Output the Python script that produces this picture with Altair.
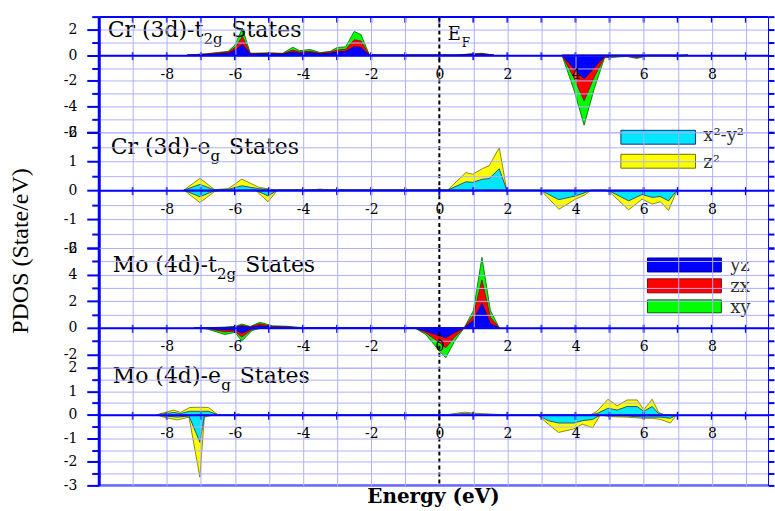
import altair as alt
import numpy as np
import pandas as pd

# ---------------------------------------------------------------------------
# Projected DOS (States/eV). Spin-up is positive, spin-down negative.
# Each orbital curve is drawn as an envelope measured from zero.
# ---------------------------------------------------------------------------

# Cr (3d)-t2g
CR_T2G_UP_E = [-7.4, -6.8, -6.2, -6.0, -5.78, -5.55, -5.0, -4.6, -4.3, -4.1, -3.8,
               -3.5, -3.2, -3.0, -2.75, -2.5, -2.3, -2.05, 0.5, 0.9, 1.25, 1.6]
CR_T2G_UP_XY = [0, 0.12, 0.3, 0.8, 2.1, 0.15, 0.18, 0.15, 0.62, 0.35, 0.45,
                0.2, 0.3, 0.6, 0.65, 1.85, 1.6, 0, 0, 0.1, 0.15, 0]
CR_T2G_UP_ZX = [0, 0.1, 0.25, 0.6, 1.45, 0.12, 0.15, 0.12, 0.4, 0.25, 0.3,
                0.15, 0.25, 0.4, 0.45, 1.2, 1.1, 0, 0, 0.08, 0.12, 0]
CR_T2G_UP_YZ = [0, 0.05, 0.15, 0.4, 0.82, 0.08, 0.1, 0.08, 0.25, 0.15, 0.2,
                0.1, 0.15, 0.25, 0.3, 0.65, 0.6, 0, 0, 0.03, 0.05, 0]
CR_T2G_DN_E = [3.6, 3.95, 4.25, 4.55, 4.85, 5.5, 5.8, 6.1, 6.8, 7.0, 7.3]
CR_T2G_DN_XY = [0, -2.7, -5.45, -2.6, -0.2, -0.1, -0.25, -0.05, -0.05, -0.12, 0]
CR_T2G_DN_ZX = [0, -1.75, -3.55, -1.7, -0.15, -0.08, -0.18, -0.04, -0.04, -0.08, 0]
CR_T2G_DN_YZ = [0, -1.05, -1.85, -0.95, -0.1, -0.05, -0.1, -0.02, -0.02, -0.04, 0]

# Cr (3d)-eg
CR_EG_UP_E = [-7.5, -7.03, -6.6, -6.2, -5.8, -5.3, -4.8, -3.8, -3.5, -3.2,
              0.24, 0.78, 0.98, 1.27, 1.46, 1.76, 1.98]
CR_EG_UP_Z2 = [0, 0.41, 0.02, 0.05, 0.38, 0.1, 0, 0, 0.04, 0,
               0, 0.61, 0.55, 0.75, 0.84, 1.47, 0]
CR_EG_UP_X2Y2 = [0, 0.2, 0.01, 0.03, 0.15, 0.05, 0, 0, 0.02, 0,
                 0, 0.29, 0.27, 0.38, 0.4, 0.74, 0]
CR_EG_DN_E = [-7.5, -7.03, -6.6, -6.4, -5.4, -5.03, -4.75, 2.93, 3.02, 3.51, 4.0,
              4.29, 4.45, 4.88, 5.03, 5.56, 5.95, 6.25, 6.49, 6.73, 6.98]
CR_EG_DN_Z2 = [0, -0.43, -0.05, 0, 0, -0.4, 0, 0, -0.05, -0.66, -0.31,
               -0.15, 0, 0, -0.1, -0.68, -0.31, -0.48, -0.4, -0.7, 0]
CR_EG_DN_X2Y2 = [0, -0.23, -0.02, 0, 0, -0.2, 0, 0, -0.03, -0.33, -0.2,
                 -0.08, 0, 0, -0.05, -0.37, -0.15, -0.25, -0.22, -0.37, 0]

# Mo (4d)-t2g
MO_T2G_UP_E = [-7.0, -6.3, -6.0, -5.8, -5.55, -5.27, -4.9, -4.5, -4.0,
               0.73, 1.0, 1.25, 1.5, 1.76]
MO_T2G_UP_XY = [0, 0.05, 0.1, 0.28, 0.1, 0.42, 0.15, 0.12, 0, 0, 1.3, 5.3, 1.3, 0]
MO_T2G_UP_ZX = [0, 0.03, 0.07, 0.18, 0.07, 0.3, 0.1, 0.08, 0, 0, 0.95, 3.6, 0.8, 0]
MO_T2G_UP_YZ = [0, 0.02, 0.04, 0.1, 0.04, 0.15, 0.05, 0.04, 0, 0, 0.55, 1.85, 0.3, 0]
MO_T2G_DN_E = [-7.2, -6.8, -6.3, -6.0, -5.8, -5.5, -5.2, -0.73, -0.4, 0.0, 0.19, 0.45, 0.73]
MO_T2G_DN_XY = [0, -0.1, -0.5, -0.35, -1.0, -0.2, 0, 0, -0.5, -1.75, -2.25, -1.0, 0]
MO_T2G_DN_ZX = [0, -0.06, -0.3, -0.25, -0.7, -0.12, 0, 0, -0.38, -1.1, -1.5, -0.7, 0]
MO_T2G_DN_YZ = [0, -0.03, -0.15, -0.15, -0.4, -0.06, 0, 0, -0.25, -0.6, -0.75, -0.35, 0]

# Mo (4d)-eg
MO_EG_UP_E = [-8.3, -7.8, -7.6, -7.33, -7.03, -6.78, -6.5, -6.0, -5.9, -5.8,
              0.2, 0.73, 1.2, 2.0, 4.44, 4.63, 4.95, 5.22, 5.51, 5.81, 6.0, 6.25, 6.44, 6.6]
MO_EG_UP_Z2 = [0, 0.2, 0.1, 0.31, 0.32, 0.31, 0, 0, 0.04, 0,
               0, 0.11, 0.05, 0, 0, 0.15, 0.66, 0.38, 0.63, 0.63, 0.21, 0.66, 0.1, 0]
MO_EG_UP_X2Y2 = [0, 0.1, 0.05, 0.15, 0.15, 0.15, 0, 0, 0.02, 0,
                 0, 0.05, 0.02, 0, 0, 0.05, 0.28, 0.2, 0.35, 0.35, 0.15, 0.35, 0.05, 0]
MO_EG_DN_E = [-8.3, -8.1, -7.7, -7.35, -7.03, -6.9, -6.6, 2.88, 3.2, 3.5, 3.95,
              4.2, 4.5, 4.73, 5.0, 5.5, 6.0, 6.25, 6.5, 6.78, 6.98]
MO_EG_DN_Z2 = [0, -0.1, -0.22, -0.1, -2.65, -0.1, 0, 0, -0.4, -0.75, -0.6,
               -0.4, -0.55, 0, -0.08, -0.1, -0.15, -0.15, -0.2, -0.35, 0]
MO_EG_DN_X2Y2 = [0, -0.05, -0.1, -0.05, -1.17, -0.05, 0, 0, -0.25, -0.35, -0.35,
                 -0.25, -0.2, 0, -0.03, -0.05, -0.1, -0.1, -0.1, -0.15, 0]

# Axis ticks
X_DOMAIN = [-10, 9.65]
X_LABELS = [-8, -6, -4, -2, 0, 2, 4, 6, 8]
X_TICKS = list(range(-9, 10))
X_GRID = [v for v in range(-9, 10) if v != 0]

# ---------------------------------------------------------------------------
W = 671
SERIF = "DejaVu Serif"
AXIS_BLUE = "#0000ff"
GRID_BLUE = "#b0b0ff"

COLORS = {
    "xy": ("#00ff00", "#006400"),
    "zx": ("#ff0000", "#8b0000"),
    "yz": ("#0000ff", "#00008b"),
    "z2": ("#ffff00", "#6e6e00"),
    "x2y2": ("#00e6ff", "#1c2f7a"),
}

# approximate DejaVu Serif advance widths (em) used to chain title pieces
CHAR_W = {"C": .72, "r": .48, " ": .318, "(": .39, ")": .39, "3": .636, "4": .636,
          "d": .64, "-": .338, "t": .402, "e": .592, "M": .995, "o": .602,
          "S": .685, "a": .596, "s": .513, "g": .64, "2": .636, "E": .73}


def text_width(s, size):
    return sum(CHAR_W.get(c, 0.6) for c in s) * size


def frame(e_up, v_up, e_dn, v_dn):
    up = pd.DataFrame({"energy": e_up, "pdos": v_up, "spin": "up"})
    dn = pd.DataFrame({"energy": e_dn, "pdos": v_dn, "spin": "down"})
    return pd.concat([up, dn], ignore_index=True)


def label_text(px, py, txt, size, font=SERIF, weight="normal", align="left",
               angle=0, color="black"):
    return alt.Chart(pd.DataFrame({"t": [txt]})).mark_text(
        align=align, baseline="middle", font=font, fontSize=size,
        fontWeight=weight, angle=angle, color=color
    ).encode(x=alt.value(px), y=alt.value(py), text="t:N")


def panel(cfg):
    ymin, ymax, H = cfg["ymin"], cfg["ymax"], cfg["height"]
    step, major = cfg["step"], cfg["major"]
    zero_px = H * ymax / (ymax - ymin)
    yvals = [float(v) for v in np.arange(ymin, ymax + 1e-9, step)]
    xs = alt.Scale(domain=X_DOMAIN, nice=False, zero=False)
    ys = alt.Scale(domain=[ymin, ymax], nice=False, zero=False)
    is_major = f"abs(datum.value % {major}) < 1e-6"

    axis_main_x = alt.Axis(
        orient="bottom", offset=-(H - zero_px), values=X_LABELS, ticks=False,
        grid=False, domainColor=AXIS_BLUE, domainWidth=2, labelFont=SERIF,
        labelFontSize=14, labelColor="black", labelPadding=12, labelFlush=False,
        labelOverlap=False, labelExpr="'' + datum.value", title=None, zindex=2)
    axis_main_y = alt.Axis(
        orient="left", values=yvals, grid=False, domainColor=AXIS_BLUE,
        domainWidth=3, tickColor=AXIS_BLUE, tickWidth=2,
        tickSize={"condition": {"test": is_major, "value": 12}, "value": 7},
        labelFont=SERIF, labelFontSize=14, labelColor="black", labelPadding=10,
        labelFlush=False, labelOverlap=False,
        labelExpr=f"{is_major} ? '' + datum.value : ''", title=None, zindex=2)
    axis_grid_x = alt.Axis(
        orient="top", values=X_GRID, grid=True, gridColor=GRID_BLUE, gridWidth=1,
        ticks=False, labels=False, domain=cfg["top_border"], domainColor=AXIS_BLUE,
        domainWidth=2, title=None, zindex=1)
    axis_grid_y = alt.Axis(
        orient="right", values=yvals, grid=True, gridColor=GRID_BLUE, gridWidth=1,
        ticks=True, tickSize=6, tickColor=AXIS_BLUE, tickWidth=2, labels=False,
        domain=True, domainColor=AXIS_BLUE, domainWidth=1, title=None, zindex=1)

    layers = []
    for i, (orb, e_up, v_up, e_dn, v_dn) in enumerate(cfg["series"]):
        fill, edge = COLORS[orb]
        if i == 0:
            ax_x, ax_y = axis_main_x, axis_main_y
        elif i == 1:
            ax_x, ax_y = axis_grid_x, axis_grid_y
        else:
            ax_x, ax_y = None, None
        layers.append(
            alt.Chart(frame(e_up, v_up, e_dn, v_dn)).mark_area(
                color=fill, stroke=edge, strokeWidth=0.8, opacity=1, interpolate="linear"
            ).encode(
                x=alt.X("energy:Q", scale=xs, axis=ax_x),
                y=alt.Y("pdos:Q", scale=ys, axis=ax_y, stack=None),
                detail="spin:N",
            )
        )

    ticks = pd.DataFrame({"e": X_TICKS})
    # crossing ticks on the zero line
    layers.append(alt.Chart(ticks).mark_rule(color=AXIS_BLUE, strokeWidth=2).encode(
        x=alt.X("e:Q", scale=xs, axis=None),
        y=alt.value(zero_px - 3), y2=alt.value(zero_px + 5)))
    if cfg["top_border"]:
        layers.append(alt.Chart(ticks).mark_rule(color=AXIS_BLUE, strokeWidth=2).encode(
            x=alt.X("e:Q", scale=xs, axis=None), y=alt.value(0), y2=alt.value(6)))
    if cfg.get("bottom_border"):
        layers.append(alt.Chart(ticks.head(1)).mark_rule(color=AXIS_BLUE, strokeWidth=2).encode(
            y=alt.value(H)))

    # Fermi level
    layers.append(alt.Chart(pd.DataFrame({"e": [0]})).mark_rule(
        color="black", strokeDash=[4, 3], strokeWidth=2).encode(
        x=alt.X("e:Q", scale=xs, axis=None)))

    # panel title with subscript
    main, sub, rest = cfg["title"]
    tx, ty = cfg["title_xy"]
    fs, fsub = 22, 15
    layers.append(label_text(tx, ty, main, fs))
    sx = tx + text_width(main, fs) + 1
    layers.append(label_text(sx, ty + 9, sub, fsub))
    layers.append(label_text(sx + text_width(sub, fsub) + 9, ty, rest, fs))

    # legend swatches and labels
    if cfg.get("legend"):
        leg = pd.DataFrame(cfg["legend"], columns=["orb", "label", "e0", "e1", "v0", "v1", "ex", "vy"])
        for _, row in leg.iterrows():
            fill, edge = COLORS[row["orb"]]
            one = leg[leg["orb"] == row["orb"]]
            layers.append(alt.Chart(one).mark_rect(color=fill, stroke=edge, strokeWidth=1).encode(
                x=alt.X("e0:Q", scale=xs, axis=None), x2="e1:Q",
                y=alt.Y("v0:Q", scale=ys, axis=None), y2="v1:Q"))
        layers.append(alt.Chart(leg).mark_text(
            align="left", baseline="middle", font=SERIF, fontSize=18, color="#303030").encode(
            x=alt.X("ex:Q", scale=xs, axis=None),
            y=alt.Y("vy:Q", scale=ys, axis=None), text="label:N"))

    for extra in cfg.get("extras", []):
        layers.append(extra)

    return alt.layer(*layers).properties(width=W, height=H)


p1 = panel({
    "ymin": -6, "ymax": 3, "height": 116, "step": 1, "major": 2, "top_border": True,
    "series": [
        ("xy", CR_T2G_UP_E, CR_T2G_UP_XY, CR_T2G_DN_E, CR_T2G_DN_XY),
        ("zx", CR_T2G_UP_E, CR_T2G_UP_ZX, CR_T2G_DN_E, CR_T2G_DN_ZX),
        ("yz", CR_T2G_UP_E, CR_T2G_UP_YZ, CR_T2G_DN_E, CR_T2G_DN_YZ),
    ],
    "title": ("Cr (3d)-t", "2g", "States"), "title_xy": (9, 13),
    "extras": [label_text(350, 18, "E", 18), label_text(364, 26, "F", 12)],
})

p2 = panel({
    "ymin": -2, "ymax": 2, "height": 116, "step": 0.5, "major": 1, "top_border": False,
    "series": [
        ("z2", CR_EG_UP_E, CR_EG_UP_Z2, CR_EG_DN_E, CR_EG_DN_Z2),
        ("x2y2", CR_EG_UP_E, CR_EG_UP_X2Y2, CR_EG_DN_E, CR_EG_DN_X2Y2),
    ],
    "title": ("Cr (3d)-e", "g", "States"), "title_xy": (12, 15),
    "legend": [
        ("x2y2", "x²-y²", 5.33, 7.52, 2.07, 1.59, 7.75, 1.86),
        ("z2", "z²", 5.33, 7.52, 1.24, 0.76, 7.75, 0.93),
    ],
    "extras": [label_text(-78, 119, "PDOS (State/eV)", 24, font="Liberation Serif",
                          align="center", angle=270)],
})

p3 = panel({
    "ymin": -3, "ymax": 6, "height": 120, "step": 1, "major": 2, "top_border": False,
    "series": [
        ("xy", MO_T2G_UP_E, MO_T2G_UP_XY, MO_T2G_DN_E, MO_T2G_DN_XY),
        ("zx", MO_T2G_UP_E, MO_T2G_UP_ZX, MO_T2G_DN_E, MO_T2G_DN_ZX),
        ("yz", MO_T2G_UP_E, MO_T2G_UP_YZ, MO_T2G_DN_E, MO_T2G_DN_YZ),
    ],
    "title": ("Mo (4d)-t", "2g", "States"), "title_xy": (14, 17),
    "legend": [
        ("yz", "yz", 6.11, 8.28, 5.25, 4.2, 8.54, 4.65),
        ("zx", "zx", 6.11, 8.28, 3.68, 2.63, 8.54, 3.08),
        ("xy", "xy", 6.11, 8.28, 2.1, 1.13, 8.54, 1.5),
    ],
})

p4 = panel({
    "ymin": -3, "ymax": 2, "height": 118, "step": 0.5, "major": 1, "top_border": False,
    "bottom_border": True,
    "series": [
        ("z2", MO_EG_UP_E, MO_EG_UP_Z2, MO_EG_DN_E, MO_EG_DN_Z2),
        ("x2y2", MO_EG_UP_E, MO_EG_UP_X2Y2, MO_EG_DN_E, MO_EG_DN_X2Y2),
    ],
    "title": ("Mo (4d)-e", "g", "States"), "title_xy": (14, 8),
    "extras": [label_text(W / 2, 130, "Energy (eV)", 20, weight="bold", align="center")],
})

chart = alt.VConcatChart(
    vconcat=[p1, p2, p3, p4], spacing=0, bounds="flush"
).properties(
    padding={"left": 9, "top": 9, "right": 0, "bottom": 0},
    background="white",
).configure_view(stroke=None)

chart.save("out.html", embed_options={"renderer": "svg", "actions": False})
